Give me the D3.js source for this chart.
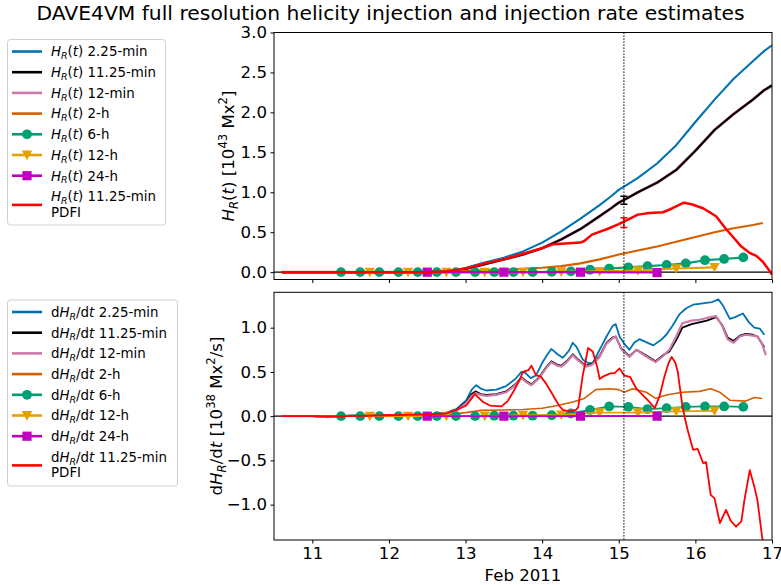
<!DOCTYPE html>
<html><head><meta charset="utf-8">
<script src="https://cdn.jsdelivr.net/npm/d3@7"></script>
<style>
body{margin:0;background:#fff}
svg{display:block}
text{font-family:"DejaVu Sans",sans-serif;fill:#000}
</style>
</head><body><svg id="c" width="781" height="585"></svg>
<script>
// ---------- DATA (days in Feb 2011) ----------
const xTicks = [11, 12, 13, 14, 15, 16, 17];
const yTicksTop = [0.0, 0.5, 1.0, 1.5, 2.0, 2.5, 3.0];
const yTicksBot = [-1.0, -0.5, 0.0, 0.5, 1.0];
const markerTime = 15.067;

// Top panel: H_R(t)
const hBlueT = [10.6,11.0,11.5,12.0,12.5,12.75,12.9,13.0,13.1,13.25,13.5,13.75,14.0,14.25,14.5,14.75,14.9,15.0,15.1,15.25,15.5,15.75,16.0,16.25,16.5,16.75,16.9,17.0];
const hBlueV = [0,0,0,0,0.003,0.01,0.03,0.05,0.08,0.12,0.18,0.26,0.37,0.51,0.67,0.84,0.95,1.03,1.09,1.18,1.36,1.59,1.88,2.16,2.42,2.64,2.77,2.84];
const hBlackT = [10.6,11.0,12.0,12.5,12.75,12.9,13.0,13.25,13.5,13.75,14.0,14.25,14.5,14.75,14.9,15.0,15.1,15.25,15.5,15.75,16.0,16.25,16.5,16.75,16.9,17.0];
const hBlackV = [0,0,0,0,0.005,0.02,0.04,0.1,0.16,0.22,0.30,0.41,0.54,0.70,0.80,0.87,0.92,1.0,1.12,1.28,1.52,1.78,1.98,2.16,2.28,2.34];
const hPinkT = hBlackT;
const hPinkV = [0,0,0,0,0.005,0.02,0.04,0.1,0.16,0.22,0.30,0.41,0.54,0.70,0.80,0.87,0.92,1.0,1.12,1.28,1.52,1.78,1.98,2.16,2.28,2.33];
const hOrangeT = [10.6,12.0,12.5,13.0,13.5,14.0,14.25,14.5,14.75,15.0,15.25,15.5,15.75,16.0,16.25,16.5,16.75,16.88];
const hOrangeV = [0,0,0.005,0.015,0.03,0.055,0.075,0.11,0.16,0.22,0.27,0.32,0.38,0.44,0.5,0.55,0.59,0.615];
const h6T = [11.375,11.625,11.875,12.125,12.375,12.625,12.875,13.125,13.375,13.625,13.875,14.125,14.375,14.625,14.875,15.125,15.375,15.625,15.875,16.125,16.375,16.625];
const h6V = [0,0,0,0,0,0,0,0,0,0,0,0.005,0.01,0.03,0.045,0.06,0.075,0.09,0.11,0.15,0.165,0.185];
const h12T = [11.75,12.25,12.75,13.25,13.75,14.25,14.75,15.25,15.75,16.25];
const h12V = [0,0,0,0,0,0.005,0.01,0.02,0.045,0.06];
const h24T = [12.5,13.5,14.5,15.5];
const h24V = [0,0,0,-0.005];
const hRedT = [10.6,11.0,12.0,12.5,12.75,12.9,13.0,13.1,13.25,13.5,13.75,14.0,14.15,14.3,14.5,14.55,14.65,14.85,15.0,15.08,15.25,15.4,15.58,15.7,15.85,15.95,16.1,16.27,16.4,16.5,16.6,16.71,16.8,16.88,16.95,17.0];
const hRedV = [0,0,0,0,0.01,0.03,0.05,0.07,0.11,0.16,0.23,0.30,0.35,0.36,0.37,0.39,0.47,0.54,0.60,0.64,0.72,0.74,0.75,0.80,0.87,0.85,0.80,0.70,0.54,0.43,0.32,0.24,0.20,0.13,0.04,-0.03];
const hErrBlack = [0.90, 0.05];
const hErrRed = [0.62, 0.06];

// Bottom panel: dH_R/dt
const dBlueT = [10.6,11.0,11.2,11.5,12.0,12.5,12.75,12.88,13.01,13.08,13.14,13.2,13.27,13.4,13.53,13.65,13.73,13.78,13.85,13.92,14.0,14.07,14.12,14.2,14.27,14.35,14.4,14.45,14.53,14.6,14.66,14.72,14.78,14.84,14.92,14.96,15.01,15.07,15.14,15.2,15.27,15.35,15.45,15.55,15.62,15.7,15.79,15.88,15.97,16.05,16.14,16.22,16.3,16.36,16.45,16.52,16.62,16.7,16.77,16.84,16.9];
const dBlueV = [0,0,-0.005,0.005,0.01,0.02,0.04,0.08,0.18,0.3,0.35,0.31,0.29,0.30,0.34,0.42,0.5,0.49,0.43,0.46,0.6,0.7,0.76,0.7,0.66,0.74,0.83,0.78,0.64,0.6,0.6,0.7,0.8,0.9,1.02,1.04,0.9,0.82,0.75,0.83,0.87,0.84,0.80,0.86,0.92,1.02,1.15,1.22,1.26,1.27,1.28,1.29,1.32,1.25,1.1,1.12,1.16,1.06,1.0,0.99,0.92];
const dPinkT = [10.6,11.0,11.2,11.5,12.0,12.5,12.75,12.88,13.01,13.08,13.13,13.2,13.27,13.4,13.53,13.65,13.73,13.8,13.86,13.95,14.05,14.12,14.2,14.25,14.33,14.4,14.47,14.57,14.65,14.75,14.84,14.92,14.96,15.03,15.1,15.14,15.23,15.35,15.48,15.58,15.66,15.75,15.83,15.95,16.05,16.15,16.27,16.35,16.42,16.5,16.58,16.66,16.75,16.81,16.87,16.92];
const dPinkV = [0,0,-0.01,0.005,0.01,0.015,0.03,0.06,0.15,0.23,0.26,0.24,0.23,0.24,0.27,0.35,0.43,0.38,0.35,0.42,0.54,0.61,0.57,0.56,0.62,0.69,0.63,0.56,0.58,0.67,0.82,0.88,0.90,0.76,0.70,0.67,0.75,0.68,0.61,0.68,0.75,0.9,1.05,1.08,1.09,1.11,1.13,1.02,0.87,0.83,0.9,0.92,0.91,0.90,0.82,0.69];
const dBlackT = [10.6,11.0,11.2,11.5,12.0,12.5,12.75,12.88,13.01,13.08,13.13,13.2,13.27,13.4,13.53,13.65,13.73,13.8,13.86,13.95,14.05,14.12,14.2,14.25,14.33,14.4,14.47,14.57,14.65,14.75,14.84,14.92,14.96,15.03,15.1,15.14,15.23,15.35,15.48,15.58,15.66,15.75,15.83,15.95,16.05,16.15,16.27,16.35,16.42,16.5,16.58,16.66,16.75,16.81,16.9];
const dBlackV = [0,0,-0.01,0.005,0.01,0.015,0.03,0.07,0.16,0.25,0.28,0.25,0.24,0.25,0.28,0.36,0.44,0.39,0.36,0.43,0.55,0.62,0.58,0.57,0.63,0.70,0.64,0.57,0.59,0.68,0.83,0.89,0.90,0.77,0.71,0.68,0.75,0.69,0.62,0.69,0.73,0.86,1.0,1.04,1.06,1.08,1.12,1.03,0.89,0.85,0.91,0.93,0.92,0.90,0.78];
const dOrangeT = [10.6,12.0,12.5,12.8,13.0,13.2,13.5,13.75,14.0,14.2,14.4,14.55,14.7,14.88,15.0,15.07,15.18,15.36,15.48,15.62,15.83,16.05,16.2,16.32,16.45,16.66,16.77,16.87];
const dOrangeV = [0,0,0.01,0.02,0.04,0.065,0.07,0.075,0.09,0.12,0.16,0.2,0.3,0.31,0.3,0.27,0.31,0.27,0.2,0.24,0.27,0.28,0.31,0.27,0.18,0.17,0.21,0.2];
const d6T = h6T;
const d6V = [0,0,0,0,0,0,0,0,0.005,0.005,0.005,0.01,0.03,0.07,0.11,0.105,0.08,0.09,0.105,0.11,0.11,0.105];
const d12T = h12T;
const d12V = [0,0,0,0,0.01,0.015,0.04,0.04,0.055,0.06];
const d24T = h24T;
const d24V = [0,0,0,0];
const dRedT = [10.6,11.0,11.2,11.5,12.0,12.5,12.75,12.88,13.01,13.08,13.12,13.18,13.23,13.32,13.47,13.55,13.62,13.7,13.75,13.82,13.86,13.92,13.98,14.05,14.14,14.22,14.27,14.36,14.44,14.47,14.53,14.6,14.66,14.72,14.75,14.8,14.88,14.95,15.01,15.07,15.15,15.23,15.31,15.4,15.47,15.53,15.6,15.65,15.69,15.74,15.77,15.83,15.87,15.9,15.97,16.03,16.1,16.14,16.2,16.25,16.32,16.4,16.46,16.53,16.6,16.64,16.71,16.77,16.81,16.87,16.9];
const dRedV = [0,0,-0.005,0,0.01,0.02,0.03,0.07,0.12,0.2,0.25,0.2,0.16,0.12,0.11,0.17,0.27,0.4,0.5,0.52,0.57,0.46,0.45,0.37,0.24,0.12,0.07,0.05,0.07,0.1,0.46,0.77,0.73,0.55,0.42,0.45,0.48,0.49,0.54,0.46,0.44,0.31,0.24,0.16,0.09,0.22,0.46,0.6,0.67,0.6,0.5,0.12,-0.05,-0.16,-0.38,-0.37,-0.53,-0.52,-0.89,-0.93,-1.21,-1.06,-1.18,-1.25,-1.19,-0.95,-0.61,-0.80,-0.95,-1.36,-1.5];

const seriesLabels = ["2.25-min","11.25-min","12-min","2-h","6-h","12-h","24-h","11.25-min"];
const colors = {blue:"#0072B2", black:"#000000", pink:"#CC79A7", orange:"#D55E00", green:"#009E73", yellow:"#E69F00", magenta:"#C000C0", red:"#FF0000"};

// ---------- DRAW ----------
const svg = d3.select("#c");
const x = d3.scaleLinear().domain([10.5, 17.0]).range([274, 772]);
const yTop = d3.scaleLinear().domain([-0.092, 3.0]).range([279.5, 32.5]);
const yBot = d3.scaleLinear().domain([-1.4, 1.4]).range([540, 292.3]);
const fmt = d => (d < 0 ? "\u2212" : "") + Math.abs(d).toFixed(1);

function zip(T, V) { return T.map((t, i) => [t, V[i]]); }

function marker(g, type, cx, cy, color) {
  if (type === "circle") g.append("circle").attr("cx", cx).attr("cy", cy).attr("r", 4.9).attr("fill", color);
  else if (type === "tri") g.append("path").attr("d", `M${cx-5.2},${cy-4.4}L${cx+5.2},${cy-4.4}L${cx},${cy+5.2}Z`).attr("fill", color);
  else if (type === "square") g.append("rect").attr("x", cx-4.6).attr("y", cy-4.6).attr("width", 9.2).attr("height", 9.2).attr("fill", color);
}

function panel(y, yTicks, series, errs, clipId, lw, showXLabels) {
  const [x0, x1] = x.range();
  const [yb, yt] = y.range();
  svg.append("clipPath").attr("id", clipId).append("rect")
    .attr("x", x0).attr("y", yt).attr("width", x1 - x0).attr("height", yb - yt);
  const g = svg.append("g").attr("clip-path", `url(#${clipId})`);
  g.append("line").attr("x1", x0).attr("x2", x1).attr("y1", y(0)).attr("y2", y(0))
    .attr("stroke", "#000").attr("stroke-width", 1.2);
  const line = d3.line().x(d => x(d[0])).y(d => y(d[1]));
  series.forEach(s => {
    g.append("path").attr("d", line(s.data)).attr("fill", "none")
      .attr("stroke", s.color).attr("stroke-width", s.lw || lw).attr("stroke-linejoin", "round");
    if (s.marker) s.data.forEach(d => marker(g, s.marker, x(d[0]), y(d[1]), s.color));
  });
  errs.forEach(e => {
    const cx = x(markerTime);
    g.append("line").attr("x1", cx).attr("x2", cx).attr("y1", y(e.v - e.e)).attr("y2", y(e.v + e.e)).attr("stroke", e.color).attr("stroke-width", 1.5);
    [e.v - e.e, e.v + e.e].forEach(v => g.append("line").attr("x1", cx - 3.5).attr("x2", cx + 3.5).attr("y1", y(v)).attr("y2", y(v)).attr("stroke", e.color).attr("stroke-width", 1.5));
  });
  svg.append("line").attr("x1", x(markerTime)).attr("x2", x(markerTime)).attr("y1", yt).attr("y2", yb)
    .attr("stroke", "#000").attr("stroke-width", 1.2).attr("stroke-dasharray", "1.2,1.8");
  const ax = svg.append("g").attr("transform", `translate(${x0},0)`)
    .call(d3.axisLeft(y).tickValues(yTicks).tickFormat(fmt).tickSize(3.5).tickPadding(3.5));
  const bx = svg.append("g").attr("transform", `translate(0,${yb})`)
    .call(d3.axisBottom(x).tickValues(xTicks).tickFormat(showXLabels ? d3.format("d") : "").tickSize(3.5).tickPadding(3.5));
  [ax, bx].forEach(a => {
    a.select(".domain").remove();
    a.selectAll("text").style("font-size", "16.6px").style("font-family", '"DejaVu Sans",sans-serif');
    a.selectAll("line").attr("stroke", "#000").attr("stroke-width", 1);
  });
  svg.append("rect").attr("x", x0).attr("y", yt).attr("width", x1 - x0).attr("height", yb - yt)
    .attr("fill", "none").attr("stroke", "#000").attr("stroke-width", 1);
}

const topSeries = [
  {data: zip(hBlueT, hBlueV), color: colors.blue},
  {data: zip(hPinkT, hPinkV), color: colors.pink, lw: 3},
  {data: zip(hBlackT, hBlackV), color: colors.black},
  {data: zip(hOrangeT, hOrangeV), color: colors.orange},
  {data: zip(h6T, h6V), color: colors.green, marker: "circle"},
  {data: zip(h12T, h12V), color: colors.yellow, marker: "tri"},
  {data: zip(h24T, h24V), color: colors.magenta, marker: "square"},
  {data: zip(hRedT, hRedV), color: colors.red, lw: 2.5},
];
panel(yTop, yTicksTop, topSeries,
  [{v: hErrBlack[0], e: hErrBlack[1], color: "#000"}, {v: hErrRed[0], e: hErrRed[1], color: colors.red}],
  "clipTop", 2.1, false);

const botSeries = [
  {data: zip(dBlueT, dBlueV), color: colors.blue},
  {data: zip(dBlackT, dBlackV), color: colors.black},
  {data: zip(dPinkT, dPinkV), color: colors.pink, lw: 2.2},
  {data: zip(dOrangeT, dOrangeV), color: colors.orange, lw: 1.6},
  {data: zip(d6T, d6V), color: colors.green, marker: "circle"},
  {data: zip(d12T, d12V), color: colors.yellow, marker: "tri"},
  {data: zip(d24T, d24V), color: colors.magenta, marker: "square"},
  {data: zip(dRedT, dRedV), color: colors.red},
];
panel(yBot, yTicksBot, botSeries, [], "clipBot", 1.8, true);

// ---------- TEXT ----------
svg.append("text").attr("x", 390.5).attr("y", 19.5).attr("text-anchor", "middle")
  .style("font-size", "20.3px").text("DAVE4VM full resolution helicity injection and injection rate estimates");
svg.append("text").attr("x", 523).attr("y", 581).attr("text-anchor", "middle")
  .style("font-size", "16.6px").text("Feb 2011");

function rich(sel, segs, size) {
  let shift = 0;
  segs.forEach(s => {
    const ts = sel.append("tspan").text(s.t);
    let target = 0, fs = size;
    if (s.sub) { target = size * 0.22; fs = size * 0.7; }
    if (s.sup) { target = -size * 0.42; fs = size * 0.7; }
    ts.attr("dy", target - shift).style("font-size", fs + "px");
    if (s.i) ts.style("font-style", "italic");
    shift = target;
  });
  if (shift !== 0) sel.append("tspan").attr("dy", -shift).text("\u200B");
}
const HR = [{t: "H", i: true}, {t: "R", i: true, sub: true}, {t: "("}, {t: "t", i: true}, {t: ")"}];
const dHR = [{t: "d"}, {t: "H", i: true}, {t: "R", i: true, sub: true}, {t: "/d"}, {t: "t", i: true}];

rich(svg.append("text").attr("transform", "translate(234,156) rotate(-90)").attr("text-anchor", "middle"),
  HR.concat([{t: " [10"}, {t: "43", sup: true}, {t: " Mx"}, {t: "2", sup: true}, {t: "]"}]), 16.6);
rich(svg.append("text").attr("transform", "translate(222,416) rotate(-90)").attr("text-anchor", "middle"),
  dHR.concat([{t: " [10"}, {t: "38", sup: true}, {t: " Mx"}, {t: "2", sup: true}, {t: "/s]"}]), 16.6);

// ---------- LEGENDS ----------
const legendStyles = [
  {color: colors.blue}, {color: colors.black}, {color: colors.pink}, {color: colors.orange},
  {color: colors.green, marker: "circle"}, {color: colors.yellow, marker: "tri"},
  {color: colors.magenta, marker: "square"}, {color: colors.red}
];
function legend(x0, y0, w, h, prefix) {
  const g = svg.append("g");
  g.append("rect").attr("x", x0).attr("y", y0).attr("width", w).attr("height", h).attr("rx", 3)
    .attr("fill", "#fff").attr("fill-opacity", 0.8).attr("stroke", "#d0d0d0").attr("stroke-width", 1);
  legendStyles.forEach((st, i) => {
    const last = i === legendStyles.length - 1;
    const cy = y0 + 12 + i * 20.7 + (last ? 8.5 : 0);
    g.append("line").attr("x1", x0 + 4.5).attr("x2", x0 + 34.5).attr("y1", cy).attr("y2", cy)
      .attr("stroke", st.color).attr("stroke-width", 2.6);
    if (st.marker) marker(g, st.marker, x0 + 19.5, cy, st.color);
    const ty = last ? y0 + 12 + i * 20.7 + 4.8 : cy + 4.8;
    rich(g.append("text").attr("x", x0 + 43.5).attr("y", ty), prefix.concat([{t: " " + seriesLabels[i]}]), 13.4);
    if (last) g.append("text").attr("x", x0 + 43.5).attr("y", ty + 15.5).style("font-size", "13.4px").text("PDFI");
  });
}
legend(7.5, 39.5, 158, 185.5, HR);
legend(7.5, 300, 170, 186, dHR);
</script>
</body></html>
